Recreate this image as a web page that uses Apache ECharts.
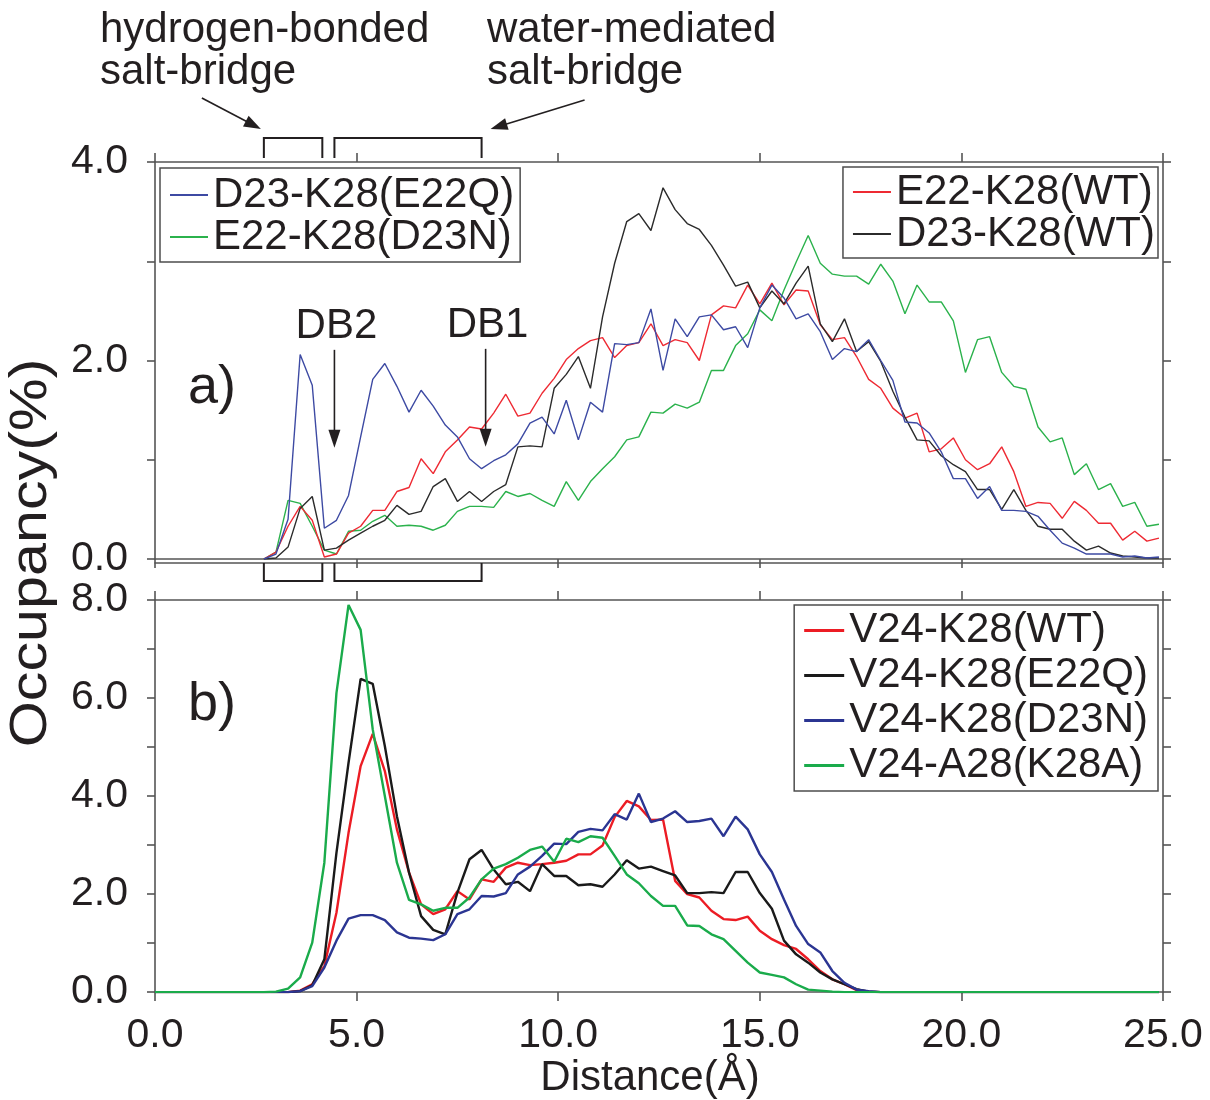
<!DOCTYPE html>
<html>
<head>
<meta charset="utf-8">
<title>Salt-bridge occupancy vs distance</title>
<script src="https://cdn.jsdelivr.net/npm/echarts@6/dist/echarts.min.js"></script>
<style>
  html, body { margin: 0; padding: 0; background: #ffffff; }
  #chart { width: 1210px; height: 1100px; }
</style>
</head>
<body>
<div id="chart"></div>
<script>
// Distance bins (Å), 0.3 Å spacing
const distanceB = [
  0.0, 0.3, 0.6, 0.9, 1.2, 1.5, 1.8, 2.1, 2.4, 2.7, 3.0, 3.3,
  3.6, 3.9, 4.2, 4.5, 4.8, 5.1, 5.4, 5.7, 6.0, 6.3, 6.6, 6.9,
  7.2, 7.5, 7.8, 8.1, 8.4, 8.7, 9.0, 9.3, 9.6, 9.9, 10.2, 10.5,
  10.8, 11.1, 11.4, 11.7, 12.0, 12.3, 12.6, 12.9, 13.2, 13.5, 13.8, 14.1,
  14.4, 14.7, 15.0, 15.3, 15.6, 15.9, 16.2, 16.5, 16.8, 17.1, 17.4, 17.7,
  18.0, 18.3, 18.6, 18.9, 19.2, 19.5, 19.8, 20.1, 20.4, 20.7, 21.0, 21.3,
  21.6, 21.9, 22.2, 22.5, 22.8, 23.1, 23.4, 23.7, 24.0, 24.3, 24.6, 24.9
];
// panel a) curves start at 2.7 Å
const distanceA = distanceB.slice(9);

// ---- panel a): salt-bridge occupancy (%) ----
const d23k28_E22Q = [
  0.00, 0.05, 0.40, 2.06, 1.75, 0.31, 0.39, 0.64, 1.23, 1.81,
  1.97, 1.74, 1.48, 1.70, 1.54, 1.35, 1.23, 1.01, 0.91, 0.99,
  1.05, 1.16, 1.37, 1.43, 1.26, 1.60, 1.20, 1.58, 1.48, 2.17,
  2.16, 2.18, 2.52, 1.90, 2.42, 2.24, 2.44, 2.46, 2.31, 2.34,
  2.13, 2.53, 2.76, 2.63, 2.42, 2.47, 2.29, 2.01, 2.12, 2.09,
  2.21, 2.00, 1.80, 1.38, 1.37, 1.27, 1.08, 0.81, 0.81, 0.61,
  0.73, 0.49, 0.49, 0.48, 0.43, 0.29, 0.16, 0.11, 0.05, 0.05,
  0.05, 0.02, 0.03, 0.01, 0.02
];
const e22k28_D23N = [
  0.00, 0.07, 0.59, 0.56, 0.33, 0.09, 0.05, 0.28, 0.29, 0.38,
  0.44, 0.33, 0.34, 0.33, 0.29, 0.34, 0.48, 0.53, 0.53, 0.52,
  0.68, 0.63, 0.66, 0.59, 0.53, 0.78, 0.59, 0.78, 0.91, 1.03,
  1.20, 1.23, 1.48, 1.47, 1.56, 1.52, 1.58, 1.90, 1.90, 2.15,
  2.27, 2.51, 2.40, 2.71, 2.99, 3.26, 2.98, 2.87, 2.85, 2.85,
  2.77, 2.97, 2.80, 2.47, 2.76, 2.59, 2.59, 2.40, 1.88, 2.21,
  2.24, 1.88, 1.74, 1.71, 1.33, 1.18, 1.22, 0.85, 0.96, 0.70,
  0.76, 0.53, 0.57, 0.33, 0.35
];
const e22k28_WT = [
  0.00, 0.07, 0.33, 0.53, 0.39, 0.02, 0.05, 0.26, 0.33, 0.49,
  0.49, 0.68, 0.72, 1.01, 0.86, 1.08, 1.20, 1.33, 1.31, 1.47,
  1.66, 1.44, 1.47, 1.67, 1.82, 2.01, 2.12, 2.20, 2.23, 2.03,
  2.15, 2.18, 2.37, 2.15, 2.21, 2.18, 2.00, 2.46, 2.55, 2.53,
  2.76, 2.57, 2.78, 2.56, 2.71, 2.70, 2.36, 2.21, 2.23, 2.04,
  1.81, 1.72, 1.52, 1.42, 1.47, 1.08, 1.11, 1.22, 1.00, 0.90,
  0.96, 1.13, 0.88, 0.53, 0.57, 0.56, 0.41, 0.58, 0.49, 0.36,
  0.36, 0.19, 0.28, 0.18, 0.21
];
const d23k28_WT = [
  0.00, 0.01, 0.12, 0.51, 0.63, 0.09, 0.11, 0.19, 0.26, 0.33,
  0.39, 0.54, 0.45, 0.48, 0.73, 0.81, 0.58, 0.68, 0.58, 0.68,
  0.75, 1.13, 1.14, 1.13, 1.72, 1.86, 2.04, 1.72, 2.44, 2.98,
  3.40, 3.48, 3.31, 3.74, 3.52, 3.38, 3.32, 3.16, 2.96, 2.75,
  2.79, 2.53, 2.70, 2.57, 2.78, 2.95, 2.37, 2.19, 2.42, 2.09,
  2.19, 1.99, 1.69, 1.43, 1.20, 1.19, 1.04, 0.95, 0.88, 0.70,
  0.70, 0.50, 0.70, 0.49, 0.33, 0.30, 0.30, 0.18, 0.09, 0.13,
  0.06, 0.03, 0.02, 0.01, 0.01
];

// ---- panel b): V24 / residue 28 contact occupancy (%) ----
const v24k28_WT = [
  0, 0, 0, 0, 0, 0, 0, 0, 0, 0, 0, 0,
  0.03, 0.16, 0.53, 1.62, 3.25, 4.61, 5.27, 4.51, 3.32, 2.44, 1.79, 1.59,
  1.69, 2.06, 1.89, 2.30, 2.25, 2.54, 2.64, 2.59, 2.61, 2.64, 2.68, 2.81,
  2.81, 2.99, 3.57, 3.90, 3.79, 3.51, 3.52, 2.27, 2.00, 1.93, 1.66, 1.49,
  1.47, 1.54, 1.25, 1.08, 0.96, 0.88, 0.67, 0.43, 0.26, 0.16, 0.04, 0.01,
  0, 0, 0, 0, 0, 0, 0, 0, 0, 0, 0, 0,
  0, 0, 0, 0, 0, 0, 0, 0, 0, 0, 0, 0
];
const v24k28_E22Q = [
  0, 0, 0, 0, 0, 0, 0, 0, 0, 0, 0, 0,
  0.02, 0.14, 0.67, 2.84, 4.68, 6.39, 6.29, 5.02, 3.59, 2.44, 1.55, 1.27,
  1.18, 2.03, 2.71, 2.90, 2.50, 2.20, 2.25, 2.06, 2.61, 2.37, 2.37, 2.18,
  2.20, 2.15, 2.40, 2.69, 2.52, 2.56, 2.47, 2.38, 2.02, 2.02, 2.04, 2.02,
  2.45, 2.45, 2.02, 1.70, 1.05, 0.77, 0.60, 0.40, 0.26, 0.16, 0.06, 0.01,
  0, 0, 0, 0, 0, 0, 0, 0, 0, 0, 0, 0,
  0, 0, 0, 0, 0, 0, 0, 0, 0, 0, 0, 0
];
const v24k28_D23N = [
  0, 0, 0, 0, 0, 0, 0, 0, 0, 0, 0, 0,
  0.02, 0.12, 0.50, 1.05, 1.50, 1.57, 1.57, 1.47, 1.22, 1.11, 1.09, 1.06,
  1.18, 1.59, 1.69, 1.96, 1.95, 2.02, 2.40, 2.56, 2.78, 3.03, 3.02, 3.27,
  3.33, 3.30, 3.63, 3.52, 4.05, 3.47, 3.54, 3.69, 3.47, 3.49, 3.54, 3.18,
  3.58, 3.32, 2.81, 2.45, 1.89, 1.35, 0.98, 0.81, 0.43, 0.19, 0.05, 0.02,
  0, 0, 0, 0, 0, 0, 0, 0, 0, 0, 0, 0,
  0, 0, 0, 0, 0, 0, 0, 0, 0, 0, 0, 0
];
const v24a28_K28A = [
  0, 0, 0, 0, 0, 0, 0, 0, 0, 0, 0.01, 0.07,
  0.30, 1.01, 2.64, 6.10, 7.90, 7.39, 5.36, 4.00, 2.64, 1.88, 1.79, 1.66,
  1.72, 1.72, 1.93, 2.30, 2.52, 2.61, 2.74, 2.90, 2.97, 2.66, 3.13, 3.06,
  3.18, 3.15, 2.78, 2.40, 2.22, 1.96, 1.76, 1.76, 1.36, 1.35, 1.18, 1.08,
  0.84, 0.60, 0.40, 0.35, 0.30, 0.16, 0.05, 0.03, 0.01, 0, 0, 0,
  0, 0, 0, 0, 0, 0, 0, 0, 0, 0, 0, 0,
  0, 0, 0, 0, 0, 0, 0, 0, 0, 0, 0, 0
];

// Axis ranges and tick labels
const xTicks = [0, 5, 10, 15, 20, 25];
const yRangeA = [0, 4];
const yRangeB = [0, 8];

// Distance windows of the two salt-bridge kinds (Å)
const hBondedRange = [2.7, 4.15];
const waterMediatedRange = [4.45, 8.1];
// Arrow targets for the two distance markers in panel a) (Å, %)
const dbMarkers = [
  { name: 'DB2', x: 4.45, y: 1.12 },
  { name: 'DB1', x: 8.2, y: 1.13 }
];

const TXT = '#231f20';
const AX = '#555555';
const FONT = '"Liberation Sans", Arial, Helvetica, sans-serif';

const chart = echarts.init(document.getElementById('chart'), null, { renderer: 'canvas' });

const fmt1 = v => Number(v).toFixed(1);
const evenLabel = v => (Math.round(v) % 2 === 0 ? Number(v).toFixed(1) : '');

function xAxisDef(gridIndex, position, opts) {
  return Object.assign({
    type: 'value', gridIndex, position,
    min: xTicks[0], max: xTicks[xTicks.length - 1], interval: 5,
    axisLine: { show: true, onZero: false, lineStyle: { color: AX, width: 1.6 } },
    axisTick: { show: true, inside: false, length: 9, lineStyle: { color: AX, width: 1.6 } },
    axisLabel: { show: false },
    splitLine: { show: false }
  }, opts || {});
}
function yAxisDef(gridIndex, position, range, showLabels) {
  return {
    type: 'value', gridIndex, position,
    min: range[0], max: range[1], interval: 1,
    axisLine: { show: true, onZero: false, lineStyle: { color: AX, width: 1.6 } },
    axisTick: { show: true, inside: false, length: 8, lineStyle: { color: AX, width: 1.6 } },
    axisLabel: showLabels ? {
      show: true, formatter: evenLabel, margin: 27,
      fontSize: 41, fontFamily: FONT, color: TXT
    } : { show: false },
    splitLine: { show: false }
  };
}

function lineSeries(name, xs, ys, color, width, xi, yi) {
  return {
    type: 'line', name, xAxisIndex: xi, yAxisIndex: yi,
    data: xs.map((x, i) => [x, ys[i]]),
    symbol: 'none', showSymbol: false, color,
    lineStyle: { color, width },
    emphasis: { disabled: true },
    animation: false
  };
}

function legendDef(pos, names, lineHeight, padding, itemWidth, itemHeight) {
  return Object.assign({
    orient: 'vertical', data: names, selectedMode: false,
    icon: 'rect', itemWidth, itemHeight, itemGap: 0,
    itemStyle: { borderWidth: 0 },
    padding, borderColor: '#4d4d4d', borderWidth: 1.5, borderRadius: 0,
    backgroundColor: '#ffffff',
    textStyle: { fontSize: 42, fontFamily: FONT, color: TXT, lineHeight }
  }, pos);
}

const option = {
  backgroundColor: '#ffffff',
  animation: false,
  grid: [
    { left: 155, top: 162, width: 1008, height: 397 },
    { left: 155, top: 600, width: 1008, height: 393 }
  ],
  xAxis: [
    xAxisDef(0, 'bottom'),
    xAxisDef(0, 'top'),
    xAxisDef(0, 'bottom', { offset: 4, axisTick: { show: false } }),
    xAxisDef(1, 'bottom', {
      axisLabel: { show: true, formatter: fmt1, margin: 23, fontSize: 41, fontFamily: FONT, color: TXT },
      name: 'Distance(Å)', nameLocation: 'middle', nameGap: 64,
      nameTextStyle: { fontSize: 42, fontFamily: FONT, color: TXT, padding: [0, 18, 0, 0] }
    }),
    xAxisDef(1, 'top')
  ],
  yAxis: [
    yAxisDef(0, 'left', yRangeA, true),
    yAxisDef(0, 'right', yRangeA, false),
    yAxisDef(1, 'left', yRangeB, true),
    yAxisDef(1, 'right', yRangeB, false)
  ],
  legend: [
    legendDef({ left: 160, top: 168 }, ['D23-K28(E22Q)', 'E22-K28(D23N)'], 42, [6, 6, 4, 10], 38, 2),
    legendDef({ right: 52, top: 167 }, ['E22-K28(WT)', 'D23-K28(WT)'], 42, [4, 3, 3, 10], 38, 2),
    legendDef({ right: 52, top: 605 },
      ['V24-K28(WT)', 'V24-K28(E22Q)', 'V24-K28(D23N)', 'V24-A28(K28A)'], 45, [3, 10, 3, 10], 40, 3)
  ],
  series: [
    lineSeries('E22-K28(D23N)', distanceA, e22k28_D23N, '#2bb24c', 1.4, 0, 0),
    lineSeries('E22-K28(WT)', distanceA, e22k28_WT, '#ee2a33', 1.4, 0, 0),
    lineSeries('D23-K28(WT)', distanceA, d23k28_WT, '#2b2b2b', 1.4, 0, 0),
    lineSeries('D23-K28(E22Q)', distanceA, d23k28_E22Q, '#3d4aa3', 1.4, 0, 0),
    lineSeries('V24-K28(WT)', distanceB, v24k28_WT, '#ec1c24', 2.4, 3, 2),
    lineSeries('V24-K28(E22Q)', distanceB, v24k28_E22Q, '#1a1a1a', 2.4, 3, 2),
    lineSeries('V24-K28(D23N)', distanceB, v24k28_D23N, '#2b3592', 2.4, 3, 2),
    lineSeries('V24-A28(K28A)', distanceB, v24a28_K28A, '#1aab4b', 2.4, 3, 2)
  ]
};

chart.setOption(option);

// ---- annotations: brackets, arrows, panel tags, axis title ----
const toPx = (x, y) => chart.convertToPixel({ xAxisIndex: 0, yAxisIndex: 0 }, [x, y]);

function text(str, x, y, size, align, extra) {
  return Object.assign({
    type: 'text', x, y, z: 100,
    style: { text: str, fontSize: size, fontFamily: FONT, fill: TXT, align: align || 'left', verticalAlign: 'middle' }
  }, extra || {});
}
function arrow(x1, y1, x2, y2, len, half) {
  const dx = x2 - x1, dy = y2 - y1, L = Math.hypot(dx, dy);
  const ux = dx / L, uy = dy / L;
  const bx = x2 - ux * len, by = y2 - uy * len;
  return [
    { type: 'line', z: 100, shape: { x1, y1, x2: bx + ux * 2, y2: by + uy * 2 }, style: { stroke: TXT, lineWidth: 1.6 } },
    { type: 'polygon', z: 100, shape: { points: [[x2, y2], [bx - uy * half, by + ux * half], [bx + uy * half, by - ux * half]] }, style: { fill: TXT } }
  ];
}
function bracket(x1, x2, yBar, yEnd) {
  return {
    type: 'polyline', z: 100,
    shape: { points: [[x1, yEnd], [x1, yBar], [x2, yBar], [x2, yEnd]] },
    style: { stroke: TXT, lineWidth: 2, fill: null }
  };
}

const gTop = toPx(0, yRangeA[1])[1];
const gBot = toPx(0, yRangeA[0])[1];
const hb = [toPx(hBondedRange[0], 0)[0], toPx(hBondedRange[1], 0)[0]];
const wm = [toPx(waterMediatedRange[0], 0)[0], toPx(waterMediatedRange[1], 0)[0]];
const barY = gTop - 24;

const elements = [
  bracket(hb[0], hb[1], barY, gTop - 4),
  bracket(wm[0], wm[1], barY, gTop - 4),
  bracket(hb[0], hb[1], gBot + 22, gBot + 4),
  bracket(wm[0], wm[1], gBot + 22, gBot + 4),
  text('hydrogen-bonded', 100, 30, 42),
  text('salt-bridge', 100, 72, 42),
  text('water-mediated', 487, 30, 42),
  text('salt-bridge', 487, 72, 42),
  ...arrow(hb[0] - 62, barY - 40, hb[0] - 3, barY - 9, 17, 6),
  ...arrow(wm[1] + 103, barY - 38, wm[1] + 9, barY - 9, 17, 6),
  text('a)', 188, 388, 54),
  text('b)', 188, 705, 54),
  text('Occupancy(%)', 32, 553, 52, 'center', { rotation: Math.PI / 2, scaleX: 1.14 })
];
dbMarkers.forEach(m => {
  const [px, py] = toPx(m.x, m.y);
  elements.push(text(m.name, px + 2, py - 121, 42, 'center'));
  elements.push(...arrow(px, py - 98, px, py, 18, 6));
});

chart.setOption({ graphic: { elements } });
</script>
</body>
</html>
